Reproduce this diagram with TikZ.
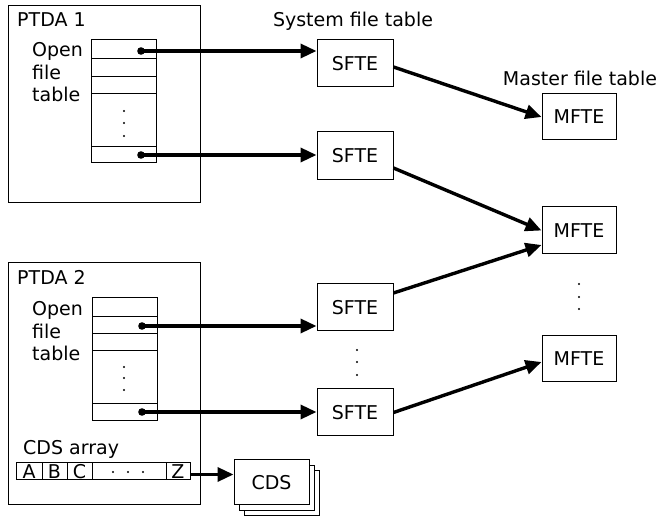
\documentclass[tikz,border=0pt]{standalone}
\usepackage{fontspec}
\setmainfont{DejaVu Sans}
\usetikzlibrary{arrows.meta,shadows}
\begin{document}
\begin{tikzpicture}[x=1pt,y=-1pt,
  every node/.style={font=\fontsize{19}{22.5}\selectfont},
  box/.style={draw, line width=1pt, inner sep=0pt, fill=white},
  thin/.style={line width=1pt},
  ptr/.style={line width=3.4pt, -{Triangle[length=16pt,width=14pt]}},
  lbl/.style={inner sep=0pt, anchor=base west},
  ptrdot/.style={radius=3.8pt},
  smalldot/.style={radius=1.2pt}]
\useasboundingbox (0,0) rectangle (662,518);

% PTDA 1
\draw[thin] (8,6) rectangle (200,203);
\node[lbl] (ptda1) at (17,27) {PTDA 1};
\node[lbl, align=left] (oft1) at (32,102) {Open\\file\\table};
\draw[thin] (91,40) rectangle (156,163);
\foreach \yy in {59,77,94,147} \draw[thin] (91,\yy) -- (156,\yy);
\foreach \yy in {111,123,136} \fill (124,\yy) circle[smalldot];
\coordinate (p1) at (141,51);
\coordinate (p2) at (141,155);
\fill (p1) circle[ptrdot];
\fill (p2) circle[ptrdot];

% PTDA 2
\draw[thin] (8,263) rectangle (200,505);
\node[lbl] (ptda2) at (17,285) {PTDA 2};
\node[lbl, align=left] (oft2) at (32,361) {Open\\file\\table};
\draw[thin] (92,298) rectangle (157,421);
\foreach \yy in {317,334,351,404} \draw[thin] (92,\yy) -- (157,\yy);
\foreach \yy in {367,378,390} \fill (124,\yy) circle[smalldot];
\coordinate (p3) at (142,326);
\coordinate (p4) at (142,412);
\fill (p3) circle[ptrdot];
\fill (p4) circle[ptrdot];

% CDS array
\node[lbl] (cdsarr) at (23,455) {CDS array};
\node[box, minimum width=26pt, minimum height=17pt] (cA) at (29,471.5) {A};
\node[box, minimum width=25pt, minimum height=17pt] (cB) at (54.5,471.5) {B};
\node[box, minimum width=25pt, minimum height=17pt] (cC) at (79.5,471.5) {C};
\node[box, minimum width=74pt, minimum height=17pt] (cdots) at (129,471.5) {};
\node[box, minimum width=24pt, minimum height=17pt] (cZ) at (178,471.5) {Z};
\foreach \xx in {113,128,143} \fill (\xx,472) circle[smalldot];

% CDS stack
\node[box, minimum width=75pt, minimum height=45pt,
  double copy shadow={shadow xshift=5pt, shadow yshift=-5.5pt}] (cds) at (271.5,482.5) {CDS};

% System file table
\node[inner sep=0pt, anchor=base] (sft) at (353,27) {System file table};
\node[box, minimum width=76pt, minimum height=47pt] (s1) at (355,63.5) {SFTE};
\node[box, minimum width=76pt, minimum height=48pt] (s2) at (355,156) {SFTE};
\node[box, minimum width=76pt, minimum height=47pt] (s3) at (355,307.5) {SFTE};
\node[box, minimum width=76pt, minimum height=47pt] (s4) at (355,412.5) {SFTE};
\foreach \yy in {350,362,375} \fill (357,\yy) circle[smalldot];

% Master file table
\node[inner sep=0pt, anchor=base] (mft) at (580,86) {Master file table};
\node[box, minimum width=74pt, minimum height=46pt] (m1) at (579,117) {MFTE};
\node[box, minimum width=74pt, minimum height=47pt] (m2) at (579,230.5) {MFTE};
\node[box, minimum width=74pt, minimum height=46pt] (m3) at (579,359) {MFTE};
\foreach \yy in {284,297,309} \fill (579,\yy) circle[smalldot];

% Connectors
\draw[ptr] (p1) -- (p1 -| s1.west);
\draw[ptr] (p2) -- (p2 -| s2.west);
\draw[ptr] (p3) -- (p3 -| s3.west);
\draw[ptr] (p4) -- (p4 -| s4.west);
\draw[ptr] ([yshift=-3pt]cZ.east) -- ([yshift=-3pt]cZ.east -| cds.west);
\draw[ptr] ([yshift=-3.5pt]s1.east) -- (m1.west);
\draw[ptr] ([yshift=-12pt]s2.east) -- (m2.west);
\draw[ptr] ([yshift=14.5pt]s3.east) -- ([yshift=-14.5pt]m2.west);
\draw[ptr] (s4.east) -- ([yshift=-3pt]m3.west);
\end{tikzpicture}
\end{document}
